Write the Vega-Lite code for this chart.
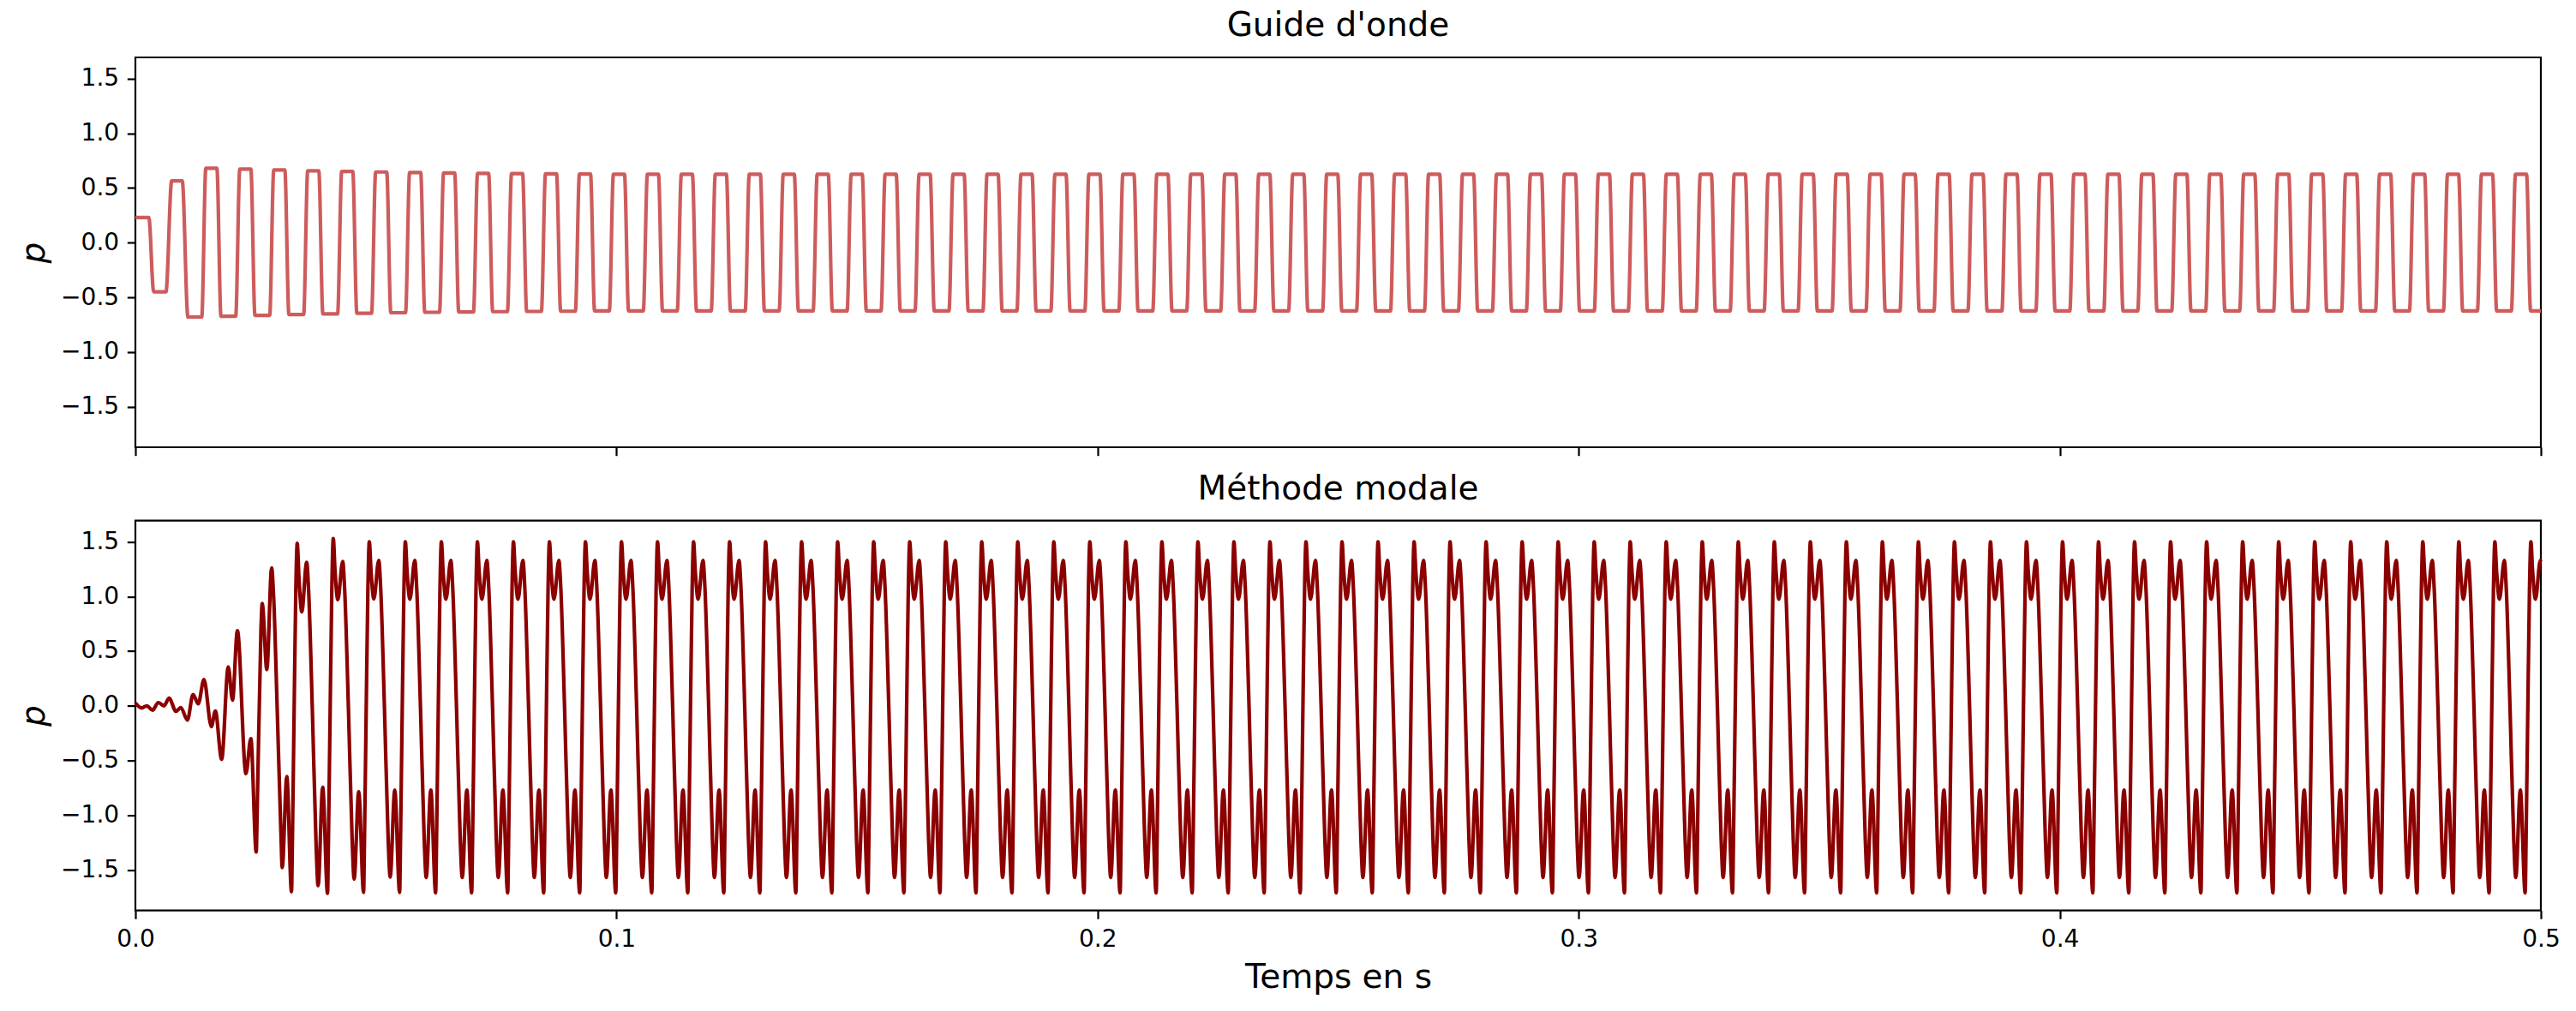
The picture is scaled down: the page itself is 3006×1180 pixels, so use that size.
{
  "$schema": "https://vega.github.io/schema/vega-lite/v6.json",
  "background": "white",
  "padding": {"left": 19, "top": 10, "right": 10, "bottom": 8},
  "bounds": "flush",
  "spacing": 85.6,
  "config": {
    "font": "DejaVu Sans",
    "view": {"stroke": "black", "strokeWidth": 2.2},
    "axis": {
      "domain": false, "grid": false, "tickColor": "black", "tickWidth": 2.2, "tickSize": 9.7,
      "labelFont": "DejaVu Sans", "labelFontSize": 28, "labelColor": "black", "labelPadding": 9.7, "labelFlush": false,
      "titleFont": "DejaVu Sans", "titleFontSize": 39, "titleFontWeight": "normal", "titleColor": "black"
    },
    "title": {"font": "DejaVu Sans", "fontSize": 39, "fontWeight": "normal", "color": "black", "anchor": "middle", "frame": "group", "offset": 16.7, "baseline": "alphabetic"}
  },
  "datasets": {
    "guide": [
      {"t":0,"p":0.23},{"t":0.00279,"p":0.23},{"t":0.0038,"p":-0.45},{"t":0.00635,"p":-0.45},{"t":0.00754,"p":0.564},{"t":0.00974,"p":0.564},{"t":0.01092,"p":-0.68},
      {"t":0.01379,"p":-0.68},{"t":0.01464,"p":0.68},{"t":0.01694,"p":0.68},{"t":0.01779,"p":-0.673},
      {"t":0.02085,"p":-0.673},{"t":0.0217,"p":0.672},{"t":0.024,"p":0.672},{"t":0.02485,"p":-0.665},
      {"t":0.02791,"p":-0.665},{"t":0.02876,"p":0.664},{"t":0.03106,"p":0.664},{"t":0.03191,"p":-0.658},
      {"t":0.03497,"p":-0.658},{"t":0.03582,"p":0.657},{"t":0.03812,"p":0.657},{"t":0.03897,"p":-0.652},
      {"t":0.04203,"p":-0.652},{"t":0.04288,"p":0.651},{"t":0.04518,"p":0.651},{"t":0.04603,"p":-0.646},
      {"t":0.04909,"p":-0.646},{"t":0.04994,"p":0.646},{"t":0.05224,"p":0.646},{"t":0.05309,"p":-0.641},
      {"t":0.05615,"p":-0.641},{"t":0.057,"p":0.641},{"t":0.0593,"p":0.641},{"t":0.06015,"p":-0.637},
      {"t":0.06321,"p":-0.637},{"t":0.06406,"p":0.637},{"t":0.06636,"p":0.637},{"t":0.06721,"p":-0.634},
      {"t":0.07027,"p":-0.634},{"t":0.07112,"p":0.634},{"t":0.07342,"p":0.634},{"t":0.07427,"p":-0.631},
      {"t":0.07733,"p":-0.631},{"t":0.07818,"p":0.631},{"t":0.08048,"p":0.631},{"t":0.08133,"p":-0.629},
      {"t":0.08439,"p":-0.629},{"t":0.08524,"p":0.629},{"t":0.08754,"p":0.629},{"t":0.08839,"p":-0.627},
      {"t":0.09145,"p":-0.627},{"t":0.0923,"p":0.627},{"t":0.0946,"p":0.627},{"t":0.09545,"p":-0.625},
      {"t":0.09851,"p":-0.625},{"t":0.09936,"p":0.625},{"t":0.10166,"p":0.625},{"t":0.10251,"p":-0.625},
      {"t":0.10557,"p":-0.625},{"t":0.10642,"p":0.625},{"t":0.10872,"p":0.625},{"t":0.10957,"p":-0.625},
      {"t":0.11263,"p":-0.625},{"t":0.11348,"p":0.625},{"t":0.11578,"p":0.625},{"t":0.11663,"p":-0.625},
      {"t":0.11969,"p":-0.625},{"t":0.12054,"p":0.625},{"t":0.12284,"p":0.625},{"t":0.12369,"p":-0.625},
      {"t":0.12675,"p":-0.625},{"t":0.1276,"p":0.625},{"t":0.1299,"p":0.625},{"t":0.13075,"p":-0.625},
      {"t":0.13381,"p":-0.625},{"t":0.13466,"p":0.625},{"t":0.13696,"p":0.625},{"t":0.13781,"p":-0.625},
      {"t":0.14087,"p":-0.625},{"t":0.14172,"p":0.625},{"t":0.14402,"p":0.625},{"t":0.14487,"p":-0.625},
      {"t":0.14793,"p":-0.625},{"t":0.14878,"p":0.625},{"t":0.15108,"p":0.625},{"t":0.15193,"p":-0.625},
      {"t":0.15499,"p":-0.625},{"t":0.15584,"p":0.625},{"t":0.15814,"p":0.625},{"t":0.15899,"p":-0.625},
      {"t":0.16205,"p":-0.625},{"t":0.1629,"p":0.625},{"t":0.1652,"p":0.625},{"t":0.16605,"p":-0.625},
      {"t":0.16911,"p":-0.625},{"t":0.16996,"p":0.625},{"t":0.17226,"p":0.625},{"t":0.17311,"p":-0.625},
      {"t":0.17617,"p":-0.625},{"t":0.17702,"p":0.625},{"t":0.17932,"p":0.625},{"t":0.18017,"p":-0.625},
      {"t":0.18323,"p":-0.625},{"t":0.18408,"p":0.625},{"t":0.18638,"p":0.625},{"t":0.18723,"p":-0.625},
      {"t":0.19029,"p":-0.625},{"t":0.19114,"p":0.625},{"t":0.19344,"p":0.625},{"t":0.19429,"p":-0.625},
      {"t":0.19735,"p":-0.625},{"t":0.1982,"p":0.625},{"t":0.2005,"p":0.625},{"t":0.20135,"p":-0.625},
      {"t":0.20441,"p":-0.625},{"t":0.20526,"p":0.625},{"t":0.20756,"p":0.625},{"t":0.20841,"p":-0.625},
      {"t":0.21147,"p":-0.625},{"t":0.21232,"p":0.625},{"t":0.21462,"p":0.625},{"t":0.21547,"p":-0.625},
      {"t":0.21853,"p":-0.625},{"t":0.21938,"p":0.625},{"t":0.22168,"p":0.625},{"t":0.22253,"p":-0.625},
      {"t":0.22559,"p":-0.625},{"t":0.22644,"p":0.625},{"t":0.22874,"p":0.625},{"t":0.22959,"p":-0.625},
      {"t":0.23265,"p":-0.625},{"t":0.2335,"p":0.625},{"t":0.2358,"p":0.625},{"t":0.23665,"p":-0.625},
      {"t":0.23971,"p":-0.625},{"t":0.24056,"p":0.625},{"t":0.24286,"p":0.625},{"t":0.24371,"p":-0.625},
      {"t":0.24677,"p":-0.625},{"t":0.24762,"p":0.625},{"t":0.24992,"p":0.625},{"t":0.25077,"p":-0.625},
      {"t":0.25383,"p":-0.625},{"t":0.25468,"p":0.625},{"t":0.25698,"p":0.625},{"t":0.25783,"p":-0.625},
      {"t":0.26089,"p":-0.625},{"t":0.26174,"p":0.625},{"t":0.26404,"p":0.625},{"t":0.26489,"p":-0.625},
      {"t":0.26795,"p":-0.625},{"t":0.2688,"p":0.625},{"t":0.2711,"p":0.625},{"t":0.27195,"p":-0.625},
      {"t":0.27501,"p":-0.625},{"t":0.27586,"p":0.625},{"t":0.27816,"p":0.625},{"t":0.27901,"p":-0.625},
      {"t":0.28207,"p":-0.625},{"t":0.28292,"p":0.625},{"t":0.28522,"p":0.625},{"t":0.28607,"p":-0.625},
      {"t":0.28913,"p":-0.625},{"t":0.28998,"p":0.625},{"t":0.29228,"p":0.625},{"t":0.29313,"p":-0.625},
      {"t":0.29619,"p":-0.625},{"t":0.29704,"p":0.625},{"t":0.29934,"p":0.625},{"t":0.30019,"p":-0.625},
      {"t":0.30325,"p":-0.625},{"t":0.3041,"p":0.625},{"t":0.3064,"p":0.625},{"t":0.30725,"p":-0.625},
      {"t":0.31031,"p":-0.625},{"t":0.31116,"p":0.625},{"t":0.31346,"p":0.625},{"t":0.31431,"p":-0.625},
      {"t":0.31737,"p":-0.625},{"t":0.31822,"p":0.625},{"t":0.32052,"p":0.625},{"t":0.32137,"p":-0.625},
      {"t":0.32443,"p":-0.625},{"t":0.32528,"p":0.625},{"t":0.32758,"p":0.625},{"t":0.32843,"p":-0.625},
      {"t":0.33149,"p":-0.625},{"t":0.33234,"p":0.625},{"t":0.33464,"p":0.625},{"t":0.33549,"p":-0.625},
      {"t":0.33855,"p":-0.625},{"t":0.3394,"p":0.625},{"t":0.3417,"p":0.625},{"t":0.34255,"p":-0.625},
      {"t":0.34561,"p":-0.625},{"t":0.34646,"p":0.625},{"t":0.34876,"p":0.625},{"t":0.34961,"p":-0.625},
      {"t":0.35267,"p":-0.625},{"t":0.35352,"p":0.625},{"t":0.35582,"p":0.625},{"t":0.35667,"p":-0.625},
      {"t":0.35973,"p":-0.625},{"t":0.36058,"p":0.625},{"t":0.36288,"p":0.625},{"t":0.36373,"p":-0.625},
      {"t":0.36679,"p":-0.625},{"t":0.36764,"p":0.625},{"t":0.36994,"p":0.625},{"t":0.37079,"p":-0.625},
      {"t":0.37385,"p":-0.625},{"t":0.3747,"p":0.625},{"t":0.377,"p":0.625},{"t":0.37785,"p":-0.625},
      {"t":0.38091,"p":-0.625},{"t":0.38176,"p":0.625},{"t":0.38406,"p":0.625},{"t":0.38491,"p":-0.625},
      {"t":0.38797,"p":-0.625},{"t":0.38882,"p":0.625},{"t":0.39112,"p":0.625},{"t":0.39197,"p":-0.625},
      {"t":0.39503,"p":-0.625},{"t":0.39588,"p":0.625},{"t":0.39818,"p":0.625},{"t":0.39903,"p":-0.625},
      {"t":0.40209,"p":-0.625},{"t":0.40294,"p":0.625},{"t":0.40524,"p":0.625},{"t":0.40609,"p":-0.625},
      {"t":0.40915,"p":-0.625},{"t":0.41,"p":0.625},{"t":0.4123,"p":0.625},{"t":0.41315,"p":-0.625},
      {"t":0.41621,"p":-0.625},{"t":0.41706,"p":0.625},{"t":0.41936,"p":0.625},{"t":0.42021,"p":-0.625},
      {"t":0.42327,"p":-0.625},{"t":0.42412,"p":0.625},{"t":0.42642,"p":0.625},{"t":0.42727,"p":-0.625},
      {"t":0.43033,"p":-0.625},{"t":0.43118,"p":0.625},{"t":0.43348,"p":0.625},{"t":0.43433,"p":-0.625},
      {"t":0.43739,"p":-0.625},{"t":0.43824,"p":0.625},{"t":0.44054,"p":0.625},{"t":0.44139,"p":-0.625},
      {"t":0.44445,"p":-0.625},{"t":0.4453,"p":0.625},{"t":0.4476,"p":0.625},{"t":0.44845,"p":-0.625},
      {"t":0.45151,"p":-0.625},{"t":0.45236,"p":0.625},{"t":0.45466,"p":0.625},{"t":0.45551,"p":-0.625},
      {"t":0.45857,"p":-0.625},{"t":0.45942,"p":0.625},{"t":0.46172,"p":0.625},{"t":0.46257,"p":-0.625},
      {"t":0.46563,"p":-0.625},{"t":0.46648,"p":0.625},{"t":0.46878,"p":0.625},{"t":0.46963,"p":-0.625},
      {"t":0.47269,"p":-0.625},{"t":0.47354,"p":0.625},{"t":0.47584,"p":0.625},{"t":0.47669,"p":-0.625},
      {"t":0.47975,"p":-0.625},{"t":0.4806,"p":0.625},{"t":0.4829,"p":0.625},{"t":0.48375,"p":-0.625},
      {"t":0.48681,"p":-0.625},{"t":0.48766,"p":0.625},{"t":0.48996,"p":0.625},{"t":0.49081,"p":-0.625},
      {"t":0.49387,"p":-0.625},{"t":0.49472,"p":0.625},{"t":0.49702,"p":0.625},{"t":0.49787,"p":-0.625},
      {"t":0.5,"p":-0.625}
    ],
    "modal": [
      {"t":0,"p":0.026},{"t":0.00131,"p":-0.02},{"t":0.00237,"p":0},{"t":0.00356,"p":-0.04},{"t":0.00475,"p":0.03},{"t":0.00594,"p":0},
      {"t":0.00701,"p":0.07},{"t":0.00843,"p":-0.05},{"t":0.00944,"p":-0.016},{"t":0.01081,"p":-0.13},{"t":0.01199,"p":0.104},{"t":0.01306,"p":0.018},
      {"t":0.01425,"p":0.24},{"t":0.01579,"p":-0.19},{"t":0.01662,"p":-0.047},{"t":0.01793,"p":-0.49},{"t":0.0193,"p":0.357},{"t":0.02019,"p":0.052},
      {"t":0.0212,"p":0.688},{"t":0.02298,"p":-0.62},{"t":0.02399,"p":-0.3},{"t":0.02512,"p":-1.337},{"t":0.0253,"p":-1.0},{"t":0.0261,"p":0.7},
      {"t":0.02636,"p":0.936},{"t":0.02732,"p":0.331},{"t":0.02832,"p":1.261},{"t":0.02873,"p":1.0},{"t":0.02951,"p":-0.08},{"t":0.03024,"p":-1.15},
      {"t":0.03052,"p":-1.48},{"t":0.03147,"p":-0.646},{"t":0.03245,"p":-1.7},{"t":0.03263,"p":-1.25},{"t":0.03299,"p":-0.05},{"t":0.03334,"p":1.05},
      {"t":0.03364,"p":1.486},{"t":0.034,"p":1.17},{"t":0.03459,"p":0.86},{"t":0.0356,"p":1.313},{"t":0.03601,"p":1.05},{"t":0.03679,"p":-0.05},{"t":0.03756,"p":-1.27},{"t":0.03798,"p":-1.645},{"t":0.03893,"p":-0.745},{"t":0.03994,"p":-1.715},{"t":0.04012,"p":-1.25},{"t":0.04048,"p":-0.05},{"t":0.04083,"p":1.07},
      {"t":0.04113,"p":1.53},{"t":0.04149,"p":1.24},{"t":0.04208,"p":0.97},{"t":0.04309,"p":1.32},{"t":0.0435,"p":1.06},{"t":0.04428,"p":-0.02},{"t":0.04505,"p":-1.22},{"t":0.04547,"p":-1.585},{"t":0.04642,"p":-0.784},{"t":0.04743,"p":-1.707},{"t":0.04761,"p":-1.25},{"t":0.04797,"p":-0.05},{"t":0.04832,"p":1.05},
      {"t":0.04862,"p":1.5},{"t":0.04898,"p":1.23},{"t":0.04957,"p":0.977},{"t":0.05058,"p":1.33},{"t":0.05099,"p":1.07},{"t":0.05177,"p":-0.02},{"t":0.05254,"p":-1.22},{"t":0.05296,"p":-1.566},{"t":0.05391,"p":-0.77},{"t":0.05492,"p":-1.707},{"t":0.0551,"p":-1.25},{"t":0.05546,"p":-0.05},{"t":0.05581,"p":1.05},
      {"t":0.05611,"p":1.5},{"t":0.05647,"p":1.23},{"t":0.05706,"p":0.975},{"t":0.05807,"p":1.33},{"t":0.05848,"p":1.07},{"t":0.05926,"p":-0.02},{"t":0.06003,"p":-1.22},{"t":0.06045,"p":-1.57},{"t":0.0614,"p":-0.77},{"t":0.06241,"p":-1.71},{"t":0.06259,"p":-1.25},{"t":0.06295,"p":-0.05},{"t":0.0633,"p":1.05},
      {"t":0.0636,"p":1.5},{"t":0.06396,"p":1.23},{"t":0.06455,"p":0.975},{"t":0.06556,"p":1.33},{"t":0.06597,"p":1.07},{"t":0.06675,"p":-0.02},{"t":0.06752,"p":-1.22},{"t":0.06794,"p":-1.57},{"t":0.06889,"p":-0.77},{"t":0.0699,"p":-1.71},{"t":0.07008,"p":-1.25},{"t":0.07044,"p":-0.05},{"t":0.07079,"p":1.05},
      {"t":0.07109,"p":1.5},{"t":0.07145,"p":1.23},{"t":0.07204,"p":0.975},{"t":0.07305,"p":1.33},{"t":0.07346,"p":1.07},{"t":0.07424,"p":-0.02},{"t":0.07501,"p":-1.22},{"t":0.07543,"p":-1.57},{"t":0.07638,"p":-0.77},{"t":0.07739,"p":-1.71},{"t":0.07757,"p":-1.25},{"t":0.07793,"p":-0.05},{"t":0.07828,"p":1.05},
      {"t":0.07858,"p":1.5},{"t":0.07894,"p":1.23},{"t":0.07953,"p":0.975},{"t":0.08054,"p":1.33},{"t":0.08095,"p":1.07},{"t":0.08173,"p":-0.02},{"t":0.0825,"p":-1.22},{"t":0.08292,"p":-1.57},{"t":0.08387,"p":-0.77},{"t":0.08488,"p":-1.71},{"t":0.08506,"p":-1.25},{"t":0.08542,"p":-0.05},{"t":0.08577,"p":1.05},
      {"t":0.08606,"p":1.5},{"t":0.08642,"p":1.23},{"t":0.08701,"p":0.975},{"t":0.08802,"p":1.33},{"t":0.08843,"p":1.07},{"t":0.08921,"p":-0.02},{"t":0.08998,"p":-1.22},{"t":0.0904,"p":-1.57},{"t":0.09135,"p":-0.77},{"t":0.09236,"p":-1.71},{"t":0.09254,"p":-1.25},{"t":0.0929,"p":-0.05},{"t":0.09325,"p":1.05},
      {"t":0.09355,"p":1.5},{"t":0.09391,"p":1.23},{"t":0.0945,"p":0.975},{"t":0.09551,"p":1.33},{"t":0.09592,"p":1.07},{"t":0.0967,"p":-0.02},{"t":0.09747,"p":-1.22},{"t":0.09789,"p":-1.57},{"t":0.09884,"p":-0.77},{"t":0.09985,"p":-1.71},{"t":0.10003,"p":-1.25},{"t":0.10039,"p":-0.05},{"t":0.10074,"p":1.05},
      {"t":0.10104,"p":1.5},{"t":0.1014,"p":1.23},{"t":0.10199,"p":0.975},{"t":0.103,"p":1.33},{"t":0.10341,"p":1.07},{"t":0.10419,"p":-0.02},{"t":0.10496,"p":-1.22},{"t":0.10538,"p":-1.57},{"t":0.10633,"p":-0.77},{"t":0.10734,"p":-1.71},{"t":0.10752,"p":-1.25},{"t":0.10788,"p":-0.05},{"t":0.10823,"p":1.05},
      {"t":0.10853,"p":1.5},{"t":0.10889,"p":1.23},{"t":0.10948,"p":0.975},{"t":0.11049,"p":1.33},{"t":0.1109,"p":1.07},{"t":0.11168,"p":-0.02},{"t":0.11245,"p":-1.22},{"t":0.11287,"p":-1.57},{"t":0.11382,"p":-0.77},{"t":0.11483,"p":-1.71},{"t":0.11501,"p":-1.25},{"t":0.11537,"p":-0.05},{"t":0.11572,"p":1.05},
      {"t":0.11602,"p":1.5},{"t":0.11638,"p":1.23},{"t":0.11697,"p":0.975},{"t":0.11798,"p":1.33},{"t":0.11839,"p":1.07},{"t":0.11917,"p":-0.02},{"t":0.11994,"p":-1.22},{"t":0.12036,"p":-1.57},{"t":0.12131,"p":-0.77},{"t":0.12232,"p":-1.71},{"t":0.1225,"p":-1.25},{"t":0.12286,"p":-0.05},{"t":0.12321,"p":1.05},
      {"t":0.12351,"p":1.5},{"t":0.12387,"p":1.23},{"t":0.12446,"p":0.975},{"t":0.12547,"p":1.33},{"t":0.12588,"p":1.07},{"t":0.12666,"p":-0.02},{"t":0.12743,"p":-1.22},{"t":0.12785,"p":-1.57},{"t":0.1288,"p":-0.77},{"t":0.12981,"p":-1.71},{"t":0.12999,"p":-1.25},{"t":0.13035,"p":-0.05},{"t":0.1307,"p":1.05},
      {"t":0.13099,"p":1.5},{"t":0.13135,"p":1.23},{"t":0.13194,"p":0.975},{"t":0.13295,"p":1.33},{"t":0.13336,"p":1.07},{"t":0.13414,"p":-0.02},{"t":0.13491,"p":-1.22},{"t":0.13533,"p":-1.57},{"t":0.13628,"p":-0.77},{"t":0.13729,"p":-1.71},{"t":0.13747,"p":-1.25},{"t":0.13783,"p":-0.05},{"t":0.13818,"p":1.05},
      {"t":0.13848,"p":1.5},{"t":0.13884,"p":1.23},{"t":0.13943,"p":0.975},{"t":0.14044,"p":1.33},{"t":0.14085,"p":1.07},{"t":0.14163,"p":-0.02},{"t":0.1424,"p":-1.22},{"t":0.14282,"p":-1.57},{"t":0.14377,"p":-0.77},{"t":0.14478,"p":-1.71},{"t":0.14496,"p":-1.25},{"t":0.14532,"p":-0.05},{"t":0.14567,"p":1.05},
      {"t":0.14597,"p":1.5},{"t":0.14633,"p":1.23},{"t":0.14692,"p":0.975},{"t":0.14793,"p":1.33},{"t":0.14834,"p":1.07},{"t":0.14912,"p":-0.02},{"t":0.14989,"p":-1.22},{"t":0.15031,"p":-1.57},{"t":0.15126,"p":-0.77},{"t":0.15227,"p":-1.71},{"t":0.15245,"p":-1.25},{"t":0.15281,"p":-0.05},{"t":0.15316,"p":1.05},
      {"t":0.15346,"p":1.5},{"t":0.15382,"p":1.23},{"t":0.15441,"p":0.975},{"t":0.15542,"p":1.33},{"t":0.15583,"p":1.07},{"t":0.15661,"p":-0.02},{"t":0.15738,"p":-1.22},{"t":0.1578,"p":-1.57},{"t":0.15875,"p":-0.77},{"t":0.15976,"p":-1.71},{"t":0.15994,"p":-1.25},{"t":0.1603,"p":-0.05},{"t":0.16065,"p":1.05},
      {"t":0.16095,"p":1.5},{"t":0.16131,"p":1.23},{"t":0.1619,"p":0.975},{"t":0.16291,"p":1.33},{"t":0.16332,"p":1.07},{"t":0.1641,"p":-0.02},{"t":0.16487,"p":-1.22},{"t":0.16529,"p":-1.57},{"t":0.16624,"p":-0.77},{"t":0.16725,"p":-1.71},{"t":0.16743,"p":-1.25},{"t":0.16779,"p":-0.05},{"t":0.16814,"p":1.05},
      {"t":0.16844,"p":1.5},{"t":0.1688,"p":1.23},{"t":0.16939,"p":0.975},{"t":0.1704,"p":1.33},{"t":0.17081,"p":1.07},{"t":0.17159,"p":-0.02},{"t":0.17236,"p":-1.22},{"t":0.17278,"p":-1.57},{"t":0.17373,"p":-0.77},{"t":0.17474,"p":-1.71},{"t":0.17492,"p":-1.25},{"t":0.17528,"p":-0.05},{"t":0.17563,"p":1.05},
      {"t":0.17592,"p":1.5},{"t":0.17628,"p":1.23},{"t":0.17687,"p":0.975},{"t":0.17788,"p":1.33},{"t":0.17829,"p":1.07},{"t":0.17907,"p":-0.02},{"t":0.17984,"p":-1.22},{"t":0.18026,"p":-1.57},{"t":0.18121,"p":-0.77},{"t":0.18222,"p":-1.71},{"t":0.1824,"p":-1.25},{"t":0.18276,"p":-0.05},{"t":0.18311,"p":1.05},
      {"t":0.18341,"p":1.5},{"t":0.18377,"p":1.23},{"t":0.18436,"p":0.975},{"t":0.18537,"p":1.33},{"t":0.18578,"p":1.07},{"t":0.18656,"p":-0.02},{"t":0.18733,"p":-1.22},{"t":0.18775,"p":-1.57},{"t":0.1887,"p":-0.77},{"t":0.18971,"p":-1.71},{"t":0.18989,"p":-1.25},{"t":0.19025,"p":-0.05},{"t":0.1906,"p":1.05},
      {"t":0.1909,"p":1.5},{"t":0.19126,"p":1.23},{"t":0.19185,"p":0.975},{"t":0.19286,"p":1.33},{"t":0.19327,"p":1.07},{"t":0.19405,"p":-0.02},{"t":0.19482,"p":-1.22},{"t":0.19524,"p":-1.57},{"t":0.19619,"p":-0.77},{"t":0.1972,"p":-1.71},{"t":0.19738,"p":-1.25},{"t":0.19774,"p":-0.05},{"t":0.19809,"p":1.05},
      {"t":0.19839,"p":1.5},{"t":0.19875,"p":1.23},{"t":0.19934,"p":0.975},{"t":0.20035,"p":1.33},{"t":0.20076,"p":1.07},{"t":0.20154,"p":-0.02},{"t":0.20231,"p":-1.22},{"t":0.20273,"p":-1.57},{"t":0.20368,"p":-0.77},{"t":0.20469,"p":-1.71},{"t":0.20487,"p":-1.25},{"t":0.20523,"p":-0.05},{"t":0.20558,"p":1.05},
      {"t":0.20588,"p":1.5},{"t":0.20624,"p":1.23},{"t":0.20683,"p":0.975},{"t":0.20784,"p":1.33},{"t":0.20825,"p":1.07},{"t":0.20903,"p":-0.02},{"t":0.2098,"p":-1.22},{"t":0.21022,"p":-1.57},{"t":0.21117,"p":-0.77},{"t":0.21218,"p":-1.71},{"t":0.21236,"p":-1.25},{"t":0.21272,"p":-0.05},{"t":0.21307,"p":1.05},
      {"t":0.21337,"p":1.5},{"t":0.21373,"p":1.23},{"t":0.21432,"p":0.975},{"t":0.21533,"p":1.33},{"t":0.21574,"p":1.07},{"t":0.21652,"p":-0.02},{"t":0.21729,"p":-1.22},{"t":0.21771,"p":-1.57},{"t":0.21866,"p":-0.77},{"t":0.21967,"p":-1.71},{"t":0.21985,"p":-1.25},{"t":0.22021,"p":-0.05},{"t":0.22056,"p":1.05},
      {"t":0.22086,"p":1.5},{"t":0.22122,"p":1.23},{"t":0.22181,"p":0.975},{"t":0.22282,"p":1.33},{"t":0.22323,"p":1.07},{"t":0.22401,"p":-0.02},{"t":0.22478,"p":-1.22},{"t":0.2252,"p":-1.57},{"t":0.22615,"p":-0.77},{"t":0.22716,"p":-1.71},{"t":0.22734,"p":-1.25},{"t":0.2277,"p":-0.05},{"t":0.22805,"p":1.05},
      {"t":0.22834,"p":1.5},{"t":0.2287,"p":1.23},{"t":0.22929,"p":0.975},{"t":0.2303,"p":1.33},{"t":0.23071,"p":1.07},{"t":0.23149,"p":-0.02},{"t":0.23226,"p":-1.22},{"t":0.23268,"p":-1.57},{"t":0.23363,"p":-0.77},{"t":0.23464,"p":-1.71},{"t":0.23482,"p":-1.25},{"t":0.23518,"p":-0.05},{"t":0.23553,"p":1.05},
      {"t":0.23583,"p":1.5},{"t":0.23619,"p":1.23},{"t":0.23678,"p":0.975},{"t":0.23779,"p":1.33},{"t":0.2382,"p":1.07},{"t":0.23898,"p":-0.02},{"t":0.23975,"p":-1.22},{"t":0.24017,"p":-1.57},{"t":0.24112,"p":-0.77},{"t":0.24213,"p":-1.71},{"t":0.24231,"p":-1.25},{"t":0.24267,"p":-0.05},{"t":0.24302,"p":1.05},
      {"t":0.24332,"p":1.5},{"t":0.24368,"p":1.23},{"t":0.24427,"p":0.975},{"t":0.24528,"p":1.33},{"t":0.24569,"p":1.07},{"t":0.24647,"p":-0.02},{"t":0.24724,"p":-1.22},{"t":0.24766,"p":-1.57},{"t":0.24861,"p":-0.77},{"t":0.24962,"p":-1.71},{"t":0.2498,"p":-1.25},{"t":0.25016,"p":-0.05},{"t":0.25051,"p":1.05},
      {"t":0.25081,"p":1.5},{"t":0.25117,"p":1.23},{"t":0.25176,"p":0.975},{"t":0.25277,"p":1.33},{"t":0.25318,"p":1.07},{"t":0.25396,"p":-0.02},{"t":0.25473,"p":-1.22},{"t":0.25515,"p":-1.57},{"t":0.2561,"p":-0.77},{"t":0.25711,"p":-1.71},{"t":0.25729,"p":-1.25},{"t":0.25765,"p":-0.05},{"t":0.258,"p":1.05},
      {"t":0.2583,"p":1.5},{"t":0.25866,"p":1.23},{"t":0.25925,"p":0.975},{"t":0.26026,"p":1.33},{"t":0.26067,"p":1.07},{"t":0.26145,"p":-0.02},{"t":0.26222,"p":-1.22},{"t":0.26264,"p":-1.57},{"t":0.26359,"p":-0.77},{"t":0.2646,"p":-1.71},{"t":0.26478,"p":-1.25},{"t":0.26514,"p":-0.05},{"t":0.26549,"p":1.05},
      {"t":0.26579,"p":1.5},{"t":0.26615,"p":1.23},{"t":0.26674,"p":0.975},{"t":0.26775,"p":1.33},{"t":0.26816,"p":1.07},{"t":0.26894,"p":-0.02},{"t":0.26971,"p":-1.22},{"t":0.27013,"p":-1.57},{"t":0.27108,"p":-0.77},{"t":0.27209,"p":-1.71},{"t":0.27227,"p":-1.25},{"t":0.27263,"p":-0.05},{"t":0.27298,"p":1.05},
      {"t":0.27327,"p":1.5},{"t":0.27363,"p":1.23},{"t":0.27422,"p":0.975},{"t":0.27523,"p":1.33},{"t":0.27564,"p":1.07},{"t":0.27642,"p":-0.02},{"t":0.27719,"p":-1.22},{"t":0.27761,"p":-1.57},{"t":0.27856,"p":-0.77},{"t":0.27957,"p":-1.71},{"t":0.27975,"p":-1.25},{"t":0.28011,"p":-0.05},{"t":0.28046,"p":1.05},
      {"t":0.28076,"p":1.5},{"t":0.28112,"p":1.23},{"t":0.28171,"p":0.975},{"t":0.28272,"p":1.33},{"t":0.28313,"p":1.07},{"t":0.28391,"p":-0.02},{"t":0.28468,"p":-1.22},{"t":0.2851,"p":-1.57},{"t":0.28605,"p":-0.77},{"t":0.28706,"p":-1.71},{"t":0.28724,"p":-1.25},{"t":0.2876,"p":-0.05},{"t":0.28795,"p":1.05},
      {"t":0.28825,"p":1.5},{"t":0.28861,"p":1.23},{"t":0.2892,"p":0.975},{"t":0.29021,"p":1.33},{"t":0.29062,"p":1.07},{"t":0.2914,"p":-0.02},{"t":0.29217,"p":-1.22},{"t":0.29259,"p":-1.57},{"t":0.29354,"p":-0.77},{"t":0.29455,"p":-1.71},{"t":0.29473,"p":-1.25},{"t":0.29509,"p":-0.05},{"t":0.29544,"p":1.05},
      {"t":0.29574,"p":1.5},{"t":0.2961,"p":1.23},{"t":0.29669,"p":0.975},{"t":0.2977,"p":1.33},{"t":0.29811,"p":1.07},{"t":0.29889,"p":-0.02},{"t":0.29966,"p":-1.22},{"t":0.30008,"p":-1.57},{"t":0.30103,"p":-0.77},{"t":0.30204,"p":-1.71},{"t":0.30222,"p":-1.25},{"t":0.30258,"p":-0.05},{"t":0.30293,"p":1.05},
      {"t":0.30323,"p":1.5},{"t":0.30359,"p":1.23},{"t":0.30418,"p":0.975},{"t":0.30519,"p":1.33},{"t":0.3056,"p":1.07},{"t":0.30638,"p":-0.02},{"t":0.30715,"p":-1.22},{"t":0.30757,"p":-1.57},{"t":0.30852,"p":-0.77},{"t":0.30953,"p":-1.71},{"t":0.30971,"p":-1.25},{"t":0.31007,"p":-0.05},{"t":0.31042,"p":1.05},
      {"t":0.31072,"p":1.5},{"t":0.31108,"p":1.23},{"t":0.31167,"p":0.975},{"t":0.31268,"p":1.33},{"t":0.31309,"p":1.07},{"t":0.31387,"p":-0.02},{"t":0.31464,"p":-1.22},{"t":0.31506,"p":-1.57},{"t":0.31601,"p":-0.77},{"t":0.31702,"p":-1.71},{"t":0.3172,"p":-1.25},{"t":0.31756,"p":-0.05},{"t":0.31791,"p":1.05},
      {"t":0.3182,"p":1.5},{"t":0.31856,"p":1.23},{"t":0.31915,"p":0.975},{"t":0.32016,"p":1.33},{"t":0.32057,"p":1.07},{"t":0.32135,"p":-0.02},{"t":0.32212,"p":-1.22},{"t":0.32254,"p":-1.57},{"t":0.32349,"p":-0.77},{"t":0.3245,"p":-1.71},{"t":0.32468,"p":-1.25},{"t":0.32504,"p":-0.05},{"t":0.32539,"p":1.05},
      {"t":0.32569,"p":1.5},{"t":0.32605,"p":1.23},{"t":0.32664,"p":0.975},{"t":0.32765,"p":1.33},{"t":0.32806,"p":1.07},{"t":0.32884,"p":-0.02},{"t":0.32961,"p":-1.22},{"t":0.33003,"p":-1.57},{"t":0.33098,"p":-0.77},{"t":0.33199,"p":-1.71},{"t":0.33217,"p":-1.25},{"t":0.33253,"p":-0.05},{"t":0.33288,"p":1.05},
      {"t":0.33318,"p":1.5},{"t":0.33354,"p":1.23},{"t":0.33413,"p":0.975},{"t":0.33514,"p":1.33},{"t":0.33555,"p":1.07},{"t":0.33633,"p":-0.02},{"t":0.3371,"p":-1.22},{"t":0.33752,"p":-1.57},{"t":0.33847,"p":-0.77},{"t":0.33948,"p":-1.71},{"t":0.33966,"p":-1.25},{"t":0.34002,"p":-0.05},{"t":0.34037,"p":1.05},
      {"t":0.34067,"p":1.5},{"t":0.34103,"p":1.23},{"t":0.34162,"p":0.975},{"t":0.34263,"p":1.33},{"t":0.34304,"p":1.07},{"t":0.34382,"p":-0.02},{"t":0.34459,"p":-1.22},{"t":0.34501,"p":-1.57},{"t":0.34596,"p":-0.77},{"t":0.34697,"p":-1.71},{"t":0.34715,"p":-1.25},{"t":0.34751,"p":-0.05},{"t":0.34786,"p":1.05},
      {"t":0.34816,"p":1.5},{"t":0.34852,"p":1.23},{"t":0.34911,"p":0.975},{"t":0.35012,"p":1.33},{"t":0.35053,"p":1.07},{"t":0.35131,"p":-0.02},{"t":0.35208,"p":-1.22},{"t":0.3525,"p":-1.57},{"t":0.35345,"p":-0.77},{"t":0.35446,"p":-1.71},{"t":0.35464,"p":-1.25},{"t":0.355,"p":-0.05},{"t":0.35535,"p":1.05},
      {"t":0.35565,"p":1.5},{"t":0.35601,"p":1.23},{"t":0.3566,"p":0.975},{"t":0.35761,"p":1.33},{"t":0.35802,"p":1.07},{"t":0.3588,"p":-0.02},{"t":0.35957,"p":-1.22},{"t":0.35999,"p":-1.57},{"t":0.36094,"p":-0.77},{"t":0.36195,"p":-1.71},{"t":0.36213,"p":-1.25},{"t":0.36249,"p":-0.05},{"t":0.36284,"p":1.05},
      {"t":0.36313,"p":1.5},{"t":0.36349,"p":1.23},{"t":0.36408,"p":0.975},{"t":0.36509,"p":1.33},{"t":0.3655,"p":1.07},{"t":0.36628,"p":-0.02},{"t":0.36705,"p":-1.22},{"t":0.36747,"p":-1.57},{"t":0.36842,"p":-0.77},{"t":0.36943,"p":-1.71},{"t":0.36961,"p":-1.25},{"t":0.36997,"p":-0.05},{"t":0.37032,"p":1.05},
      {"t":0.37062,"p":1.5},{"t":0.37098,"p":1.23},{"t":0.37157,"p":0.975},{"t":0.37258,"p":1.33},{"t":0.37299,"p":1.07},{"t":0.37377,"p":-0.02},{"t":0.37454,"p":-1.22},{"t":0.37496,"p":-1.57},{"t":0.37591,"p":-0.77},{"t":0.37692,"p":-1.71},{"t":0.3771,"p":-1.25},{"t":0.37746,"p":-0.05},{"t":0.37781,"p":1.05},
      {"t":0.37811,"p":1.5},{"t":0.37847,"p":1.23},{"t":0.37906,"p":0.975},{"t":0.38007,"p":1.33},{"t":0.38048,"p":1.07},{"t":0.38126,"p":-0.02},{"t":0.38203,"p":-1.22},{"t":0.38245,"p":-1.57},{"t":0.3834,"p":-0.77},{"t":0.38441,"p":-1.71},{"t":0.38459,"p":-1.25},{"t":0.38495,"p":-0.05},{"t":0.3853,"p":1.05},
      {"t":0.3856,"p":1.5},{"t":0.38596,"p":1.23},{"t":0.38655,"p":0.975},{"t":0.38756,"p":1.33},{"t":0.38797,"p":1.07},{"t":0.38875,"p":-0.02},{"t":0.38952,"p":-1.22},{"t":0.38994,"p":-1.57},{"t":0.39089,"p":-0.77},{"t":0.3919,"p":-1.71},{"t":0.39208,"p":-1.25},{"t":0.39244,"p":-0.05},{"t":0.39279,"p":1.05},
      {"t":0.39309,"p":1.5},{"t":0.39345,"p":1.23},{"t":0.39404,"p":0.975},{"t":0.39505,"p":1.33},{"t":0.39546,"p":1.07},{"t":0.39624,"p":-0.02},{"t":0.39701,"p":-1.22},{"t":0.39743,"p":-1.57},{"t":0.39838,"p":-0.77},{"t":0.39939,"p":-1.71},{"t":0.39957,"p":-1.25},{"t":0.39993,"p":-0.05},{"t":0.40028,"p":1.05},
      {"t":0.40058,"p":1.5},{"t":0.40094,"p":1.23},{"t":0.40153,"p":0.975},{"t":0.40254,"p":1.33},{"t":0.40295,"p":1.07},{"t":0.40373,"p":-0.02},{"t":0.4045,"p":-1.22},{"t":0.40492,"p":-1.57},{"t":0.40587,"p":-0.77},{"t":0.40688,"p":-1.71},{"t":0.40706,"p":-1.25},{"t":0.40742,"p":-0.05},{"t":0.40777,"p":1.05},
      {"t":0.40806,"p":1.5},{"t":0.40842,"p":1.23},{"t":0.40901,"p":0.975},{"t":0.41002,"p":1.33},{"t":0.41043,"p":1.07},{"t":0.41121,"p":-0.02},{"t":0.41198,"p":-1.22},{"t":0.4124,"p":-1.57},{"t":0.41335,"p":-0.77},{"t":0.41436,"p":-1.71},{"t":0.41454,"p":-1.25},{"t":0.4149,"p":-0.05},{"t":0.41525,"p":1.05},
      {"t":0.41555,"p":1.5},{"t":0.41591,"p":1.23},{"t":0.4165,"p":0.975},{"t":0.41751,"p":1.33},{"t":0.41792,"p":1.07},{"t":0.4187,"p":-0.02},{"t":0.41947,"p":-1.22},{"t":0.41989,"p":-1.57},{"t":0.42084,"p":-0.77},{"t":0.42185,"p":-1.71},{"t":0.42203,"p":-1.25},{"t":0.42239,"p":-0.05},{"t":0.42274,"p":1.05},
      {"t":0.42304,"p":1.5},{"t":0.4234,"p":1.23},{"t":0.42399,"p":0.975},{"t":0.425,"p":1.33},{"t":0.42541,"p":1.07},{"t":0.42619,"p":-0.02},{"t":0.42696,"p":-1.22},{"t":0.42738,"p":-1.57},{"t":0.42833,"p":-0.77},{"t":0.42934,"p":-1.71},{"t":0.42952,"p":-1.25},{"t":0.42988,"p":-0.05},{"t":0.43023,"p":1.05},
      {"t":0.43053,"p":1.5},{"t":0.43089,"p":1.23},{"t":0.43148,"p":0.975},{"t":0.43249,"p":1.33},{"t":0.4329,"p":1.07},{"t":0.43368,"p":-0.02},{"t":0.43445,"p":-1.22},{"t":0.43487,"p":-1.57},{"t":0.43582,"p":-0.77},{"t":0.43683,"p":-1.71},{"t":0.43701,"p":-1.25},{"t":0.43737,"p":-0.05},{"t":0.43772,"p":1.05},
      {"t":0.43802,"p":1.5},{"t":0.43838,"p":1.23},{"t":0.43897,"p":0.975},{"t":0.43998,"p":1.33},{"t":0.44039,"p":1.07},{"t":0.44117,"p":-0.02},{"t":0.44194,"p":-1.22},{"t":0.44236,"p":-1.57},{"t":0.44331,"p":-0.77},{"t":0.44432,"p":-1.71},{"t":0.4445,"p":-1.25},{"t":0.44486,"p":-0.05},{"t":0.44521,"p":1.05},
      {"t":0.44551,"p":1.5},{"t":0.44587,"p":1.23},{"t":0.44646,"p":0.975},{"t":0.44747,"p":1.33},{"t":0.44788,"p":1.07},{"t":0.44866,"p":-0.02},{"t":0.44943,"p":-1.22},{"t":0.44985,"p":-1.57},{"t":0.4508,"p":-0.77},{"t":0.45181,"p":-1.71},{"t":0.45199,"p":-1.25},{"t":0.45235,"p":-0.05},{"t":0.4527,"p":1.05},
      {"t":0.453,"p":1.5},{"t":0.45336,"p":1.23},{"t":0.45395,"p":0.975},{"t":0.45496,"p":1.33},{"t":0.45537,"p":1.07},{"t":0.45615,"p":-0.02},{"t":0.45692,"p":-1.22},{"t":0.45734,"p":-1.57},{"t":0.45829,"p":-0.77},{"t":0.4593,"p":-1.71},{"t":0.45948,"p":-1.25},{"t":0.45984,"p":-0.05},{"t":0.46019,"p":1.05},
      {"t":0.46048,"p":1.5},{"t":0.46084,"p":1.23},{"t":0.46143,"p":0.975},{"t":0.46244,"p":1.33},{"t":0.46285,"p":1.07},{"t":0.46363,"p":-0.02},{"t":0.4644,"p":-1.22},{"t":0.46482,"p":-1.57},{"t":0.46577,"p":-0.77},{"t":0.46678,"p":-1.71},{"t":0.46696,"p":-1.25},{"t":0.46732,"p":-0.05},{"t":0.46767,"p":1.05},
      {"t":0.46797,"p":1.5},{"t":0.46833,"p":1.23},{"t":0.46892,"p":0.975},{"t":0.46993,"p":1.33},{"t":0.47034,"p":1.07},{"t":0.47112,"p":-0.02},{"t":0.47189,"p":-1.22},{"t":0.47231,"p":-1.57},{"t":0.47326,"p":-0.77},{"t":0.47427,"p":-1.71},{"t":0.47445,"p":-1.25},{"t":0.47481,"p":-0.05},{"t":0.47516,"p":1.05},
      {"t":0.47546,"p":1.5},{"t":0.47582,"p":1.23},{"t":0.47641,"p":0.975},{"t":0.47742,"p":1.33},{"t":0.47783,"p":1.07},{"t":0.47861,"p":-0.02},{"t":0.47938,"p":-1.22},{"t":0.4798,"p":-1.57},{"t":0.48075,"p":-0.77},{"t":0.48176,"p":-1.71},{"t":0.48194,"p":-1.25},{"t":0.4823,"p":-0.05},{"t":0.48265,"p":1.05},
      {"t":0.48295,"p":1.5},{"t":0.48331,"p":1.23},{"t":0.4839,"p":0.975},{"t":0.48491,"p":1.33},{"t":0.48532,"p":1.07},{"t":0.4861,"p":-0.02},{"t":0.48687,"p":-1.22},{"t":0.48729,"p":-1.57},{"t":0.48824,"p":-0.77},{"t":0.48925,"p":-1.71},{"t":0.48943,"p":-1.25},{"t":0.48979,"p":-0.05},{"t":0.49014,"p":1.05},
      {"t":0.49044,"p":1.5},{"t":0.4908,"p":1.23},{"t":0.49139,"p":0.975},{"t":0.4924,"p":1.33},{"t":0.49281,"p":1.07},{"t":0.49359,"p":-0.02},{"t":0.49436,"p":-1.22},{"t":0.49478,"p":-1.57},{"t":0.49573,"p":-0.77},{"t":0.49674,"p":-1.71},{"t":0.49692,"p":-1.25},{"t":0.49728,"p":-0.05},{"t":0.49763,"p":1.05},
      {"t":0.49793,"p":1.5},{"t":0.49829,"p":1.23},{"t":0.49888,"p":0.975},{"t":0.49989,"p":1.33},{"t":0.5,"p":1.32}
    ]
  },
  "vconcat": [
    {
      "title": {"text": "Guide d'onde"},
      "data": {"name": "guide"},
      "width": 2807,
      "height": 455,
      "mark": {"type": "line", "color": "#cd5c5c", "strokeWidth": 4.2, "interpolate": "monotone", "strokeJoin": "round"},
      "encoding": {
        "x": {"field": "t", "type": "quantitative", "scale": {"domain": [0, 0.5], "nice": false, "zero": false},
              "axis": {"values": [0, 0.1, 0.2, 0.3, 0.4, 0.5], "labels": false, "title": null}},
        "y": {"field": "p", "type": "quantitative", "scale": {"domain": [-1.871, 1.694], "nice": false, "zero": false},
              "axis": {"values": [-1.5, -1, -0.5, 0, 0.5, 1, 1.5], "format": ".1f", "title": "p", "titleFontStyle": "italic", "titlePadding": 11}}
      }
    },
    {
      "title": {"text": "Méthode modale"},
      "data": {"name": "modal"},
      "width": 2807,
      "height": 455,
      "mark": {"type": "line", "color": "#8b0000", "strokeWidth": 4.2, "interpolate": "monotone", "strokeJoin": "round"},
      "encoding": {
        "x": {"field": "t", "type": "quantitative", "scale": {"domain": [0, 0.5], "nice": false, "zero": false},
              "axis": {"values": [0, 0.1, 0.2, 0.3, 0.4, 0.5], "format": ".1f", "title": "Temps en s", "titlePadding": 11}},
        "y": {"field": "p", "type": "quantitative", "scale": {"domain": [-1.871, 1.694], "nice": false, "zero": false},
              "axis": {"values": [-1.5, -1, -0.5, 0, 0.5, 1, 1.5], "format": ".1f", "title": "p", "titleFontStyle": "italic", "titlePadding": 11}}
      }
    }
  ]
}
